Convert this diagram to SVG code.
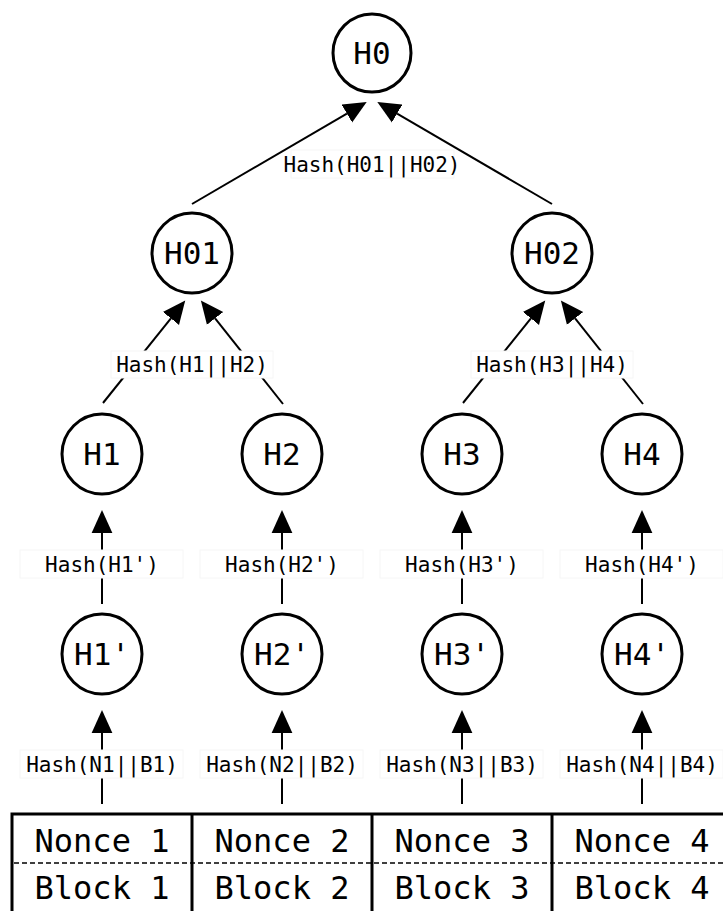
<svg xmlns="http://www.w3.org/2000/svg" width="723" height="911" viewBox="0 0 723 911">
  <style>
    .node circle { fill: #ffffff; stroke: #000000; stroke-width: 3; }
    .node text { font-family: "DejaVu Sans Mono", "Liberation Mono", monospace; font-size: 31px; text-anchor: middle; fill: #000000; }
    .edge { fill: none; stroke: #000000; stroke-width: 2; marker-end: url(#head); }
    .lbl rect { fill: #ffffff; stroke: #f6f6f6; stroke-width: 1; }
    .lbl text { font-family: "DejaVu Sans Mono", "Liberation Mono", monospace; font-size: 21px; text-anchor: middle; fill: #000000; }
    .table { fill: none; stroke: #000000; stroke-width: 3; }
    .split { fill: none; stroke: #000000; stroke-width: 1.5; stroke-dasharray: 5 3; }
    .cell { font-family: "DejaVu Sans Mono", "Liberation Mono", monospace; font-size: 32px; text-anchor: middle; fill: #000000; }
  </style>
  <defs>
    <marker id="head" markerUnits="userSpaceOnUse" markerWidth="24" markerHeight="22" viewBox="0 -10 22 20" refX="0" refY="0" orient="auto">
      <path d="M0,-9.5 L21,0 L0,9.5 z" fill="#000000"/>
    </marker>
  </defs>

  <!-- connectors (lines stop at the arrowhead base; the marker adds the head) -->
  <g id="connectors">
    <path class="edge" d="M192,204 L346.9,113.6"/>
    <path class="edge" d="M552,204 L397.1,113.6"/>
    <path class="edge" d="M103,403 L170.9,318.4"/>
    <path class="edge" d="M283,404 L215.1,318.4"/>
    <path class="edge" d="M463,403 L530.9,318.4"/>
    <path class="edge" d="M643,404 L575.1,318.4"/>
    <path class="edge" d="M102,604 V533"/>
    <path class="edge" d="M282,604 V533"/>
    <path class="edge" d="M462,604 V533"/>
    <path class="edge" d="M642,604 V533"/>
    <path class="edge" d="M102,804 V733"/>
    <path class="edge" d="M282,804 V733"/>
    <path class="edge" d="M462,804 V733"/>
    <path class="edge" d="M642,804 V733"/>
  </g>

  <!-- edge labels -->
  <g id="labels">
    <g class="lbl"><rect x="291" y="150" width="163" height="28"/><text x="372" y="171.5">Hash(H01||H02)</text></g>
    <g class="lbl"><rect x="111" y="351" width="162" height="27"/><text x="192" y="372">Hash(H1||H2)</text></g>
    <g class="lbl"><rect x="471" y="351" width="162" height="27"/><text x="552" y="372">Hash(H3||H4)</text></g>
    <g class="lbl"><rect x="20" y="550" width="163" height="28"/><text x="102" y="571.5">Hash(H1')</text></g>
    <g class="lbl"><rect x="200" y="550" width="163" height="28"/><text x="282" y="571.5">Hash(H2')</text></g>
    <g class="lbl"><rect x="380" y="550" width="163" height="28"/><text x="462" y="571.5">Hash(H3')</text></g>
    <g class="lbl"><rect x="560" y="550" width="163" height="28"/><text x="642" y="571.5">Hash(H4')</text></g>
    <g class="lbl"><rect x="20" y="750" width="163" height="28"/><text x="102" y="771.5">Hash(N1||B1)</text></g>
    <g class="lbl"><rect x="200" y="750" width="163" height="28"/><text x="282" y="771.5">Hash(N2||B2)</text></g>
    <g class="lbl"><rect x="380" y="750" width="163" height="28"/><text x="462" y="771.5">Hash(N3||B3)</text></g>
    <g class="lbl"><rect x="560" y="750" width="163" height="28"/><text x="642" y="771.5">Hash(N4||B4)</text></g>
  </g>

  <!-- hash tree nodes -->
  <g id="H0" class="node"><circle cx="372" cy="53" r="39"/><text x="372" y="64">H0</text></g>
  <g id="H01" class="node"><circle cx="192" cy="253" r="40"/><text x="192" y="264">H01</text></g>
  <g id="H02" class="node"><circle cx="552" cy="253" r="40"/><text x="552" y="264">H02</text></g>
  <g id="H1" class="node"><circle cx="102" cy="454" r="40"/><text x="102" y="465">H1</text></g>
  <g id="H2" class="node"><circle cx="282" cy="454" r="40"/><text x="282" y="465">H2</text></g>
  <g id="H3" class="node"><circle cx="462" cy="454" r="40"/><text x="462" y="465">H3</text></g>
  <g id="H4" class="node"><circle cx="642" cy="454" r="40"/><text x="642" y="465">H4</text></g>
  <g id="H1p" class="node"><circle cx="102" cy="654" r="40"/><text x="102" y="665">H1'</text></g>
  <g id="H2p" class="node"><circle cx="282" cy="654" r="40"/><text x="282" y="665">H2'</text></g>
  <g id="H3p" class="node"><circle cx="462" cy="654" r="40"/><text x="462" y="665">H3'</text></g>
  <g id="H4p" class="node"><circle cx="642" cy="654" r="40"/><text x="642" y="665">H4'</text></g>

  <!-- nonce / block table -->
  <g id="blocks">
    <line class="split" x1="14" y1="863" x2="723" y2="863"/>
    <path class="table" d="M12,915 V814 H730"/>
    <path class="table" d="M192,814 V915 M372,814 V915 M552,814 V915"/>
    <text class="cell" x="102" y="852">Nonce 1</text>
    <text class="cell" x="282" y="852">Nonce 2</text>
    <text class="cell" x="462" y="852">Nonce 3</text>
    <text class="cell" x="642" y="852">Nonce 4</text>
    <text class="cell" x="102" y="899">Block 1</text>
    <text class="cell" x="282" y="899">Block 2</text>
    <text class="cell" x="462" y="899">Block 3</text>
    <text class="cell" x="642" y="899">Block 4</text>
  </g>
</svg>
